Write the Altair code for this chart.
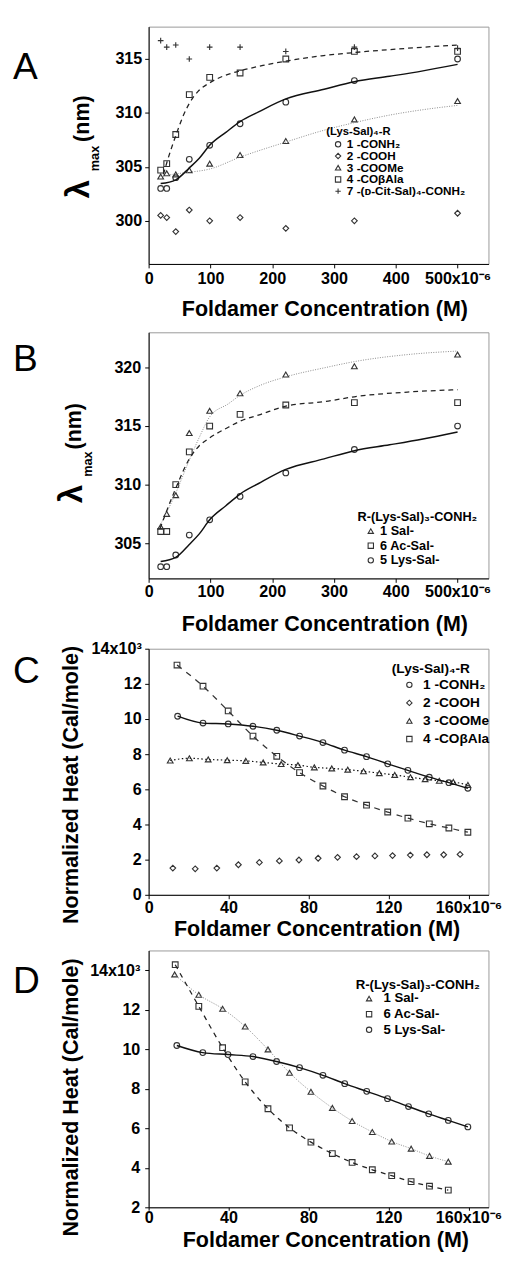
import altair as alt
import pandas as pd

FONT = "Liberation Sans"
W = 348
INK = "#333333"

# ---------------- Panel A : lambda_max of (Lys-Sal)4-R ----------------
conc_ab = [19.5, 29.3, 43.9, 65.8, 98.8, 148, 222, 333, 500]

a_labels = ["1 -CONH₂", "2 -COOH", "3 -COOMe", "4 -COβAla", "7 -(ᴅ-Cit-Sal)₄-CONH₂"]
a_conh2 = [303.0, 303.0, 304.0, 305.7, 307.0, 309.0, 311.0, 313.0, 315.0]
a_cooh = [300.5, 300.3, 299.0, 301.0, 300.0, 300.3, 299.3, 300.0, 300.7]
a_coome = [304.1, 304.4, 304.3, 304.7, 305.3, 306.1, 307.4, 309.4, 311.1]
a_coala = [304.7, 305.3, 308.0, 311.7, 313.3, 313.7, 315.0, 315.7, 315.7]
a_dcit = [316.7, 316.1, 316.3, 315.0, 316.1, 316.1, 315.7, 316.1, 316.0]

# fitted curves
fit_conh2_x = [19.5, 43.9, 65.8, 82, 98.8, 125, 148, 178, 222, 284, 333, 390, 444, 500]
fit_conh2_y = [303.45, 303.8, 304.9, 305.8, 307.0, 308.2, 309.2, 310.1, 311.3, 312.2, 312.9, 313.4, 313.9, 314.5]
fit_coala_x = [24, 30, 44, 55, 66, 80, 99, 120, 148, 185, 222, 280, 333, 420, 500]
fit_coala_y = [304.3, 305.5, 307.9, 309.6, 310.9, 312.0, 312.8, 313.4, 313.9, 314.4, 314.8, 315.3, 315.6, 316.0, 316.3]
fit_coome_x = [19.5, 43.9, 65.8, 98.8, 148, 222, 284, 333, 390, 444, 500]
fit_coome_y = [304.1, 304.35, 304.5, 304.8, 305.9, 307.3, 308.4, 309.1, 309.8, 310.3, 310.7]

# ---------------- Panel B : lambda_max of R-(Lys-Sal)3-CONH2 ----------------
b_labels = ["1 Sal-", "6 Ac-Sal-", "5 Lys-Sal-"]
b_sal = [306.4, 307.5, 309.1, 314.4, 316.3, 317.8, 319.4, 320.1, 321.1]
b_acsal = [306.0, 306.0, 310.0, 312.8, 315.0, 316.0, 316.8, 317.0, 317.0]
b_lyssal = [303.0, 303.0, 304.0, 305.7, 307.0, 309.0, 311.0, 313.0, 315.0]

fit_b_x = [18.4, 43.2, 65.9, 81.7, 99, 129, 147.5, 181.8, 222, 287, 333, 419, 500]
fit_sal_y = [306.5, 309.2, 312.1, 314.0, 315.8, 316.9, 317.6, 318.5, 319.2, 320.0, 320.5, 321.1, 321.4]
fit_acsal_y = [306.25, 309.6, 312.2, 313.3, 314.0, 314.9, 315.4, 316.0, 316.7, 317.1, 317.5, 317.9, 318.1]

# ---------------- Panel C : normalized heat (x10^3 cal/mole) ----------------
c_labels = ["1 -CONH₂", "2 -COOH", "3 -COOMe", "4 -COβAla"]
c_x_conh2 = [14.5, 27.2, 39.8, 52.2, 64.1, 75.5, 87.2, 98.0, 109.0, 119.6, 129.7, 140.4, 150.2, 159.7]
c_conh2 = [10.16, 9.77, 9.72, 9.59, 9.36, 9.03, 8.66, 8.23, 7.86, 7.45, 7.08, 6.69, 6.38, 6.06]
c_x_cooh = [12.1, 23.3, 34.1, 44.9, 55.4, 65.4, 75.2, 84.8, 94.5, 104.0, 113.2, 122.0, 130.9, 139.2, 147.6, 155.8]
c_cooh = [1.52, 1.48, 1.52, 1.71, 1.84, 1.93, 1.98, 2.08, 2.13, 2.17, 2.21, 2.23, 2.26, 2.28, 2.28, 2.30]
c_x_coome = [10.8, 20.4, 29.8, 39.3, 48.6, 57.3, 66.3, 74.7, 82.9, 91.6, 99.6, 107.5, 115.4, 123.1, 131.0, 138.3, 145.4, 152.4, 159.7]
c_coome = [7.64, 7.77, 7.70, 7.66, 7.62, 7.53, 7.44, 7.38, 7.25, 7.19, 7.12, 7.03, 6.92, 6.82, 6.69, 6.58, 6.49, 6.42, 6.25]
c_x_coala = [14.2, 27.2, 39.8, 52.2, 64.1, 75.5, 87.2, 98.0, 109.0, 119.6, 129.7, 140.4, 150.2, 159.7]
c_coala = [13.07, 11.87, 10.46, 9.03, 7.88, 6.95, 6.19, 5.58, 5.10, 4.71, 4.36, 4.04, 3.80, 3.56]

# ---------------- Panel D : normalized heat (x10^3 cal/mole) ----------------
d_labels = ["1 Sal-", "6 Ac-Sal-", "5 Lys-Sal-"]
d_x_sal = [13.0, 25.1, 37.0, 48.3, 59.7, 70.5, 81.2, 91.9, 101.8, 111.9, 121.6, 131.3, 140.5, 149.9]
d_sal = [13.79, 12.76, 12.05, 11.15, 9.99, 8.81, 7.85, 7.03, 6.37, 5.81, 5.33, 4.97, 4.60, 4.31]
d_x_acsal = [13.3, 25.1, 37.0, 48.3, 59.7, 70.5, 81.2, 91.9, 101.8, 111.9, 121.6, 131.3, 140.5, 149.9]
d_acsal = [14.28, 12.17, 10.08, 8.35, 6.99, 6.02, 5.30, 4.72, 4.27, 3.90, 3.60, 3.30, 3.07, 2.87]
d_x_lyssal = [14.1, 27.1, 39.7, 52.2, 64.0, 75.5, 87.2, 98.1, 109.1, 119.5, 130.0, 140.1, 149.9, 159.7]
d_lyssal = [10.19, 9.83, 9.73, 9.63, 9.38, 9.07, 8.68, 8.26, 7.87, 7.50, 7.10, 6.73, 6.40, 6.07]

PLUS = "M-1,0L1,0M0,-1L0,1"


def long_df(label_list, xs_list, ys_list):
    rows = []
    for lab, xs, ys in zip(label_list, xs_list, ys_list):
        for xv, yv in zip(xs, ys):
            rows.append({"x": xv, "y": yv, "series": lab})
    return pd.DataFrame(rows)


def points(df, xs, ys, xax, yax, order, shapes, legend):
    return alt.Chart(df).mark_point(filled=False, color=INK, strokeWidth=1.15, size=34, opacity=1).encode(
        x=alt.X("x:Q", scale=xs, axis=xax),
        y=alt.Y("y:Q", scale=ys, axis=yax),
        shape=alt.Shape("series:N", scale=alt.Scale(domain=order, range=shapes), legend=legend),
    )


def line(xv, yv, xs, ys, xax, yax, color, width, dash=None):
    df = pd.DataFrame({"x": xv, "y": yv})
    kw = dict(color=color, strokeWidth=width, interpolate="monotone")
    if dash:
        kw["strokeDash"] = dash
    return alt.Chart(df).mark_line(**kw).encode(
        x=alt.X("x:Q", scale=xs, axis=xax), y=alt.Y("y:Q", scale=ys, axis=yax)
    )


def text(t, x, y, size, angle=0, weight="bold", align="left", baseline="alphabetic"):
    kw = dict(font=FONT, fontSize=size, fontWeight=weight, align=align, baseline=baseline, color="black")
    if angle:
        kw["angle"] = angle
    return alt.Chart(pd.DataFrame({"t": [t]})).mark_text(**kw).encode(
        x=alt.value(x), y=alt.value(y), text="t:N"
    )


def spacer(top, bottom):
    return alt.Chart(pd.DataFrame({"t": [0]})).mark_rule(strokeOpacity=0).encode(
        x=alt.value(0), y=alt.value(top), y2=alt.value(bottom)
    )


def legend(title, lx, ly, tsize, lsize, sym_off, lab_off, row_pad, title_pad):
    return alt.Legend(
        title=title, orient="none", legendX=lx, legendY=ly, direction="vertical", padding=0,
        titleFont=FONT, titleFontSize=tsize, titleFontWeight="bold", titleColor="black", titlePadding=title_pad,
        labelFont=FONT, labelFontSize=lsize, labelFontWeight="bold", labelColor="black",
        symbolSize=30, symbolStrokeColor=INK, symbolStrokeWidth=1.1, symbolFillColor="transparent",
        symbolOffset=sym_off, labelOffset=lab_off, rowPadding=row_pad,
    )


def xaxis(vals, last, lab_pad, title_x, title_y, tick=4):
    return alt.Axis(
        values=vals, labelExpr=f"datum.value == {last} ? '{last}x10⁻⁶' : datum.label",
        labelPadding=lab_pad, labelFlush=False, labelOverlap=False, tickSize=tick,
        title="Foldamer Concentration (M)", titleX=title_x, titleY=title_y,
        titleAlign="center", titleBaseline="alphabetic",
    )


def heat_axis(vals, lab_pad, title_y):
    return alt.Axis(
        values=vals, labelPadding=lab_pad, labelOverlap=False,
        labelExpr="datum.value == 14 ? '14x10³' : datum.label",
        title="Normalized Heat (Cal/mole)", titleX=-73, titleY=title_y,
        titleAlign="center", titleBaseline="alphabetic",
    )


HA, HB, HC, HD = 243, 252, 252, 263
xs_ab = alt.Scale(domain=[0, 550], nice=False, zero=False)
ys_a = alt.Scale(domain=[296, 318], nice=False, zero=False)
ys_b = alt.Scale(domain=[302, 323], nice=False, zero=False)
xs_cd = alt.Scale(domain=[0, 170], nice=False, zero=False)
ys_c = alt.Scale(domain=[0, 14], nice=False, zero=False)
ys_d = alt.Scale(domain=[2, 15], nice=False, zero=False)

# ---------------- panel A ----------------
xa = xaxis([0, 100, 200, 300, 400, 500], 500, 3, 180, 53)
ya = alt.Axis(values=[300, 305, 310, 315], labelPadding=3, labelOverlap=False, title=None)
df_a = long_df(a_labels, [conc_ab] * 5, [a_conh2, a_cooh, a_coome, a_coala, a_dcit])
panel_a = alt.layer(
    points(df_a, xs_ab, ys_a, xa, ya, a_labels, ["circle", "diamond", "triangle-up", "square", PLUS],
           legend("(Lys-Sal)₄-R", 182, 102, 11.5, 12, 6, 3, 0, 1)),
    line(fit_coome_x, fit_coome_y, xs_ab, ys_a, xa, ya, "#888888", 1, [1, 1.5]),
    line(fit_coala_x, fit_coala_y, xs_ab, ys_a, xa, ya, "#222222", 1.3, [5, 4]),
    line(fit_conh2_x, fit_conh2_y, xs_ab, ys_a, xa, ya, "#111111", 1.5),
    spacer(0, HA + 60),
    text("A", -139, 54, 38, weight="normal"),
    text("λ", -61, 176, 34, angle=270),
    text("max", -51, 148, 13, angle=270),
    text("(nm)", -61, 118, 22, angle=270),
).properties(width=W, height=HA)

# ---------------- panel B ----------------
xb = xaxis([0, 100, 200, 300, 400, 500], 500, 2, 180, 53)
yb = alt.Axis(values=[305, 310, 315, 320], labelPadding=4, labelOverlap=False, title=None)
df_b = long_df(b_labels, [conc_ab] * 3, [b_sal, b_acsal, b_lyssal])
panel_b = alt.layer(
    points(df_b, xs_ab, ys_b, xb, yb, b_labels, ["triangle-up", "square", "circle"],
           legend("R-(Lys-Sal)₃-CONH₂", 214, 183, 13, 13, 7, 3, 1, 1)),
    line(fit_b_x, fit_sal_y, xs_ab, ys_b, xb, yb, "#888888", 1, [1, 1.5]),
    line(fit_b_x, fit_acsal_y, xs_ab, ys_b, xb, yb, "#222222", 1.3, [5, 4]),
    line(fit_conh2_x, fit_conh2_y, xs_ab, ys_b, xb, yb, "#111111", 1.5),
    spacer(-8, HB + 60),
    text("B", -139, 40, 38, weight="normal"),
    text("λ", -68, 175, 34, angle=270),
    text("max", -58, 148, 13, angle=270),
    text("(nm)", -69, 120, 22, angle=270),
).properties(width=W, height=HB)

# ---------------- panel C ----------------
xc = xaxis([0, 40, 80, 120, 160], 160, 1, 172, 42)
yc = heat_axis([0, 2, 4, 6, 8, 10, 12, 14], 3.5, 139)
df_c = long_df(c_labels, [c_x_conh2, c_x_cooh, c_x_coome, c_x_coala], [c_conh2, c_cooh, c_coome, c_coala])
panel_c = alt.layer(
    points(df_c, xs_cd, ys_c, xc, yc, c_labels, ["circle", "diamond", "triangle-up", "square"],
           legend("(Lys-Sal)₄-R", 249, 14, 14, 14, 11, 7, 4.5, 2)),
    line(c_x_coome, c_coome, xs_cd, ys_c, xc, yc, "#111111", 1.2, [1.5, 2.5]),
    line(c_x_coala, c_coala, xs_cd, ys_c, xc, yc, "#333333", 1.3, [6, 6]),
    line(c_x_conh2, c_conh2, xs_cd, ys_c, xc, yc, "#111111", 1.4),
    spacer(-10, HC + 49),
    text("C", -139, 35, 38, weight="normal"),
).properties(width=W, height=HC)

# ---------------- panel D ----------------
xd = xaxis([0, 40, 80, 120, 160], 160, 0, 181, 40, tick=3)
yd = heat_axis([2, 4, 6, 8, 10, 12, 14], 5, 150)
df_d = long_df(d_labels, [d_x_sal, d_x_acsal, d_x_lyssal], [d_sal, d_acsal, d_lyssal])
panel_d = alt.layer(
    points(df_d, xs_cd, ys_d, xd, yd, d_labels, ["triangle-up", "square", "circle"],
           legend("R-(Lys-Sal)₃-CONH₂", 212, 28, 13.5, 13.5, 7, 8, 1, 1)),
    line(d_x_sal, d_sal, xs_cd, ys_d, xd, yd, "#888888", 1, [1, 1.5]),
    line(d_x_acsal, d_acsal, xs_cd, ys_d, xd, yd, "#222222", 1.3, [5, 5]),
    line(d_x_lyssal, d_lyssal, xs_cd, ys_d, xd, yd, "#111111", 1.5),
    spacer(-6, HD + 30),
    text("D", -139, 44, 38, weight="normal"),
).properties(width=W, height=HD)

chart = (
    alt.vconcat(panel_a, panel_b, panel_c, panel_d, spacing=0)
    .resolve_scale(shape="independent")
    .resolve_legend(shape="independent")
    .properties(padding={"left": 4, "top": 3, "right": 5, "bottom": 0})
    .configure_view(stroke="#999999", strokeWidth=1)
    .configure_axis(
        labelFont=FONT, labelFontSize=16.5, labelFontWeight="bold", labelColor="black",
        labelOverlap=False, labelBound=False,
        domainColor="black", domainWidth=1, tickColor="black", tickSize=4, tickWidth=1, grid=False,
        titleFont=FONT, titleFontSize=22, titleFontWeight="bold", titleColor="black",
    )
)

chart.save("out.html", embed_options={"renderer": "svg", "actions": False})
